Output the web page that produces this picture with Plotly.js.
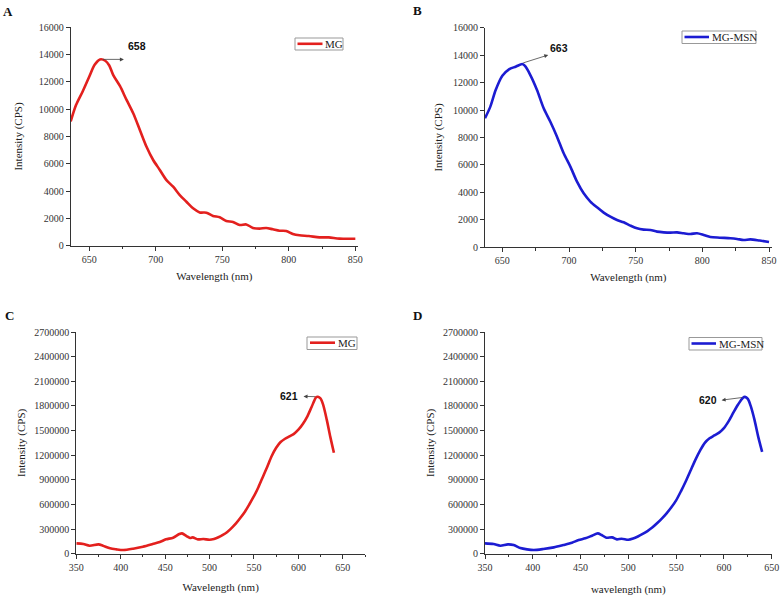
<!DOCTYPE html>
<html>
<head>
<meta charset="utf-8">
<script src="https://cdn.plot.ly/plotly-3.0.1.min.js"></script>
<style>html,body{margin:0;padding:0;background:#fff;}#chart{width:781px;height:599px;}</style>
</head>
<body>
<div id="chart"></div>
<script>
// ---- Data ----
const A_wavelength = [636,640,645,650,654,658,662,665,668,673,678,683,688,693,698,703,708,713,718,723,728,733,738,743,748,753,758,763,768,773,778,783,788,793,798,803,808,815,823,830,838,850];
const A_intensity  = [9100,10300,11300,12400,13250,13650,13550,13200,12500,11700,10680,9700,8480,7250,6280,5550,4800,4320,3710,3220,2740,2440,2420,2180,2080,1810,1740,1520,1560,1300,1250,1300,1200,1100,1080,860,760,710,610,610,520,510];

const B_wavelength = [637,641,645,650,655,660,665,667,671,676,681,686,691,696,701,706,711,716,721,726,731,736,741,746,751,756,761,766,771,776,781,786,791,796,801,806,813,821,826,831,836,843,850];
const B_intensity  = [9400,10250,11460,12500,12970,13160,13350,13210,12550,11460,10130,9150,8060,6850,5880,4780,3930,3330,2910,2530,2230,1990,1820,1580,1380,1290,1260,1140,1090,1070,1090,1020,970,1020,900,750,700,660,610,530,580,490,390];

const C_wavelength = [350,358,365,375,380,388,395,403,414,425,436,444,451,459,466,469,474,478,481,487,493,500,505,510,515,520,525,530,535,540,545,550,555,560,565,570,575,580,585,590,595,600,605,610,615,620,622,625,628,632,636,640];
const C_intensity  = [125900,117700,97400,113700,97400,65000,52800,44700,60900,85300,117700,142100,174600,194900,239500,247700,215200,190800,198900,174600,178600,170000,180000,200000,228000,265000,315000,372000,440000,515000,605000,700000,810000,935000,1060000,1190000,1290000,1360000,1400000,1430000,1460000,1510000,1580000,1670000,1790000,1905000,1912000,1890000,1810000,1630000,1420000,1230000];

const D_wavelength = [350,359,366,374,380,387,394,401,411,422,432,441,448,455,462,468,472,477,483,488,493,500,505,510,515,520,525,530,535,540,545,550,555,560,565,570,575,580,585,590,595,600,605,610,615,620,622,625,628,632,636,640];
const D_intensity  = [125900,117700,97400,113700,105600,69000,52800,44700,56800,77100,105600,134000,166500,186800,219200,247700,227400,194900,198900,174600,182700,170000,185000,210000,240000,275000,318000,370000,428000,492000,565000,650000,760000,880000,1010000,1140000,1255000,1350000,1405000,1440000,1475000,1530000,1615000,1720000,1820000,1900000,1910000,1885000,1800000,1630000,1420000,1240000];

const seriesNames = ['MG','MG-MSN','MG','MG-MSN'];
const panelLetters = ['A','B','C','D'];
const peakLabels = ['658','663','621','620'];
const xTitles = ['Wavelength (nm)','Wavelength (nm)','Wavelength (nm)','wavelength (nm)'];
const yTitle = 'Intensity (CPS)';

// ---- Styling ----
const W = 781, H = 599;
const RED = '#e3201e', BLUE = '#1c1cd2';
const px = v => v / W;
const py = v => 1 - v / H;
const serif = 'Liberation Serif, Times New Roman, serif';
const sans = 'Liberation Sans, Arial, sans-serif';

function trace(x, y, color, xa, ya) {
  return {x: x, y: y, type: 'scatter', mode: 'lines', xaxis: xa, yaxis: ya,
    line: {color: color, width: 2.6, shape: 'spline', smoothing: 0.8},
    showlegend: false, hoverinfo: 'x+y'};
}

const data = [
  trace(A_wavelength, A_intensity, RED, 'x', 'y'),
  trace(B_wavelength, B_intensity, BLUE, 'x2', 'y2'),
  trace(C_wavelength, C_intensity, RED, 'x3', 'y3'),
  trace(D_wavelength, D_intensity, BLUE, 'x4', 'y4')
];

function xaxis(domain, range, dtick, anchor, title, standoff) {
  return {domain: domain, range: range, anchor: anchor, dtick: dtick, tick0: 0,
    showline: true, linecolor: '#333', linewidth: 1, ticks: 'outside', ticklen: 4, tickcolor: '#333',
    showgrid: false, zeroline: false, tickfont: {family: serif, size: 10, color: '#333'},
    minor: {ticks: 'outside', ticklen: 2.5, dtick: 25, tick0: 0, tickcolor: '#333', showgrid: false},
    title: {text: title, font: {family: serif, size: 11, color: '#222'}, standoff: standoff}};
}
function yaxis(domain, range, dtick, anchor, standoff) {
  return {domain: domain, range: range, anchor: anchor, dtick: dtick, tick0: 0, tickformat: 'd',
    showline: true, linecolor: '#333', linewidth: 1, ticks: 'outside', ticklen: 4, tickcolor: '#333',
    showgrid: false, zeroline: false, tickfont: {family: serif, size: 10, color: '#333'},
    title: {text: yTitle, font: {family: serif, size: 11, color: '#222'}, standoff: standoff}};
}

// legend boxes drawn as shapes + text
function legendBox(x0, y0, x1, y1, lx0, lx1, ly, color) {
  return [
    {type: 'rect', xref: 'paper', yref: 'paper', x0: px(x0), x1: px(x1), y0: py(y1), y1: py(y0),
     line: {color: '#999', width: 1}, fillcolor: 'rgba(0,0,0,0)'},
    {type: 'line', xref: 'paper', yref: 'paper', x0: px(lx0), x1: px(lx1), y0: py(ly), y1: py(ly),
     line: {color: color, width: 2.6}}
  ];
}
const shapes = [].concat(
  legendBox(295, 38, 343, 50, 297.5, 322.5, 43.8, RED),
  legendBox(682, 31, 756, 43.5, 684.5, 709, 37, BLUE),
  legendBox(307, 337, 357, 349.5, 310, 335, 342.7, RED),
  legendBox(689, 337.5, 762, 350, 691.5, 716, 343.5, BLUE)
);

function legendText(txt, x, y) {
  return {text: txt, xref: 'paper', yref: 'paper', x: px(x), y: py(y), xanchor: 'left', yanchor: 'middle',
    showarrow: false, font: {family: serif, size: 11, color: '#222'}};
}
function letter(txt, x, y) {
  return {text: '<b>' + txt + '</b>', xref: 'paper', yref: 'paper', x: px(x), y: py(y), xanchor: 'center', yanchor: 'middle',
    showarrow: false, font: {family: serif, size: 13, color: '#111'}};
}
function arrow(xa, ya, tailX, tailY, headX, headY) {
  return {text: '', xref: xa, yref: ya, axref: xa, ayref: ya, x: headX, y: headY, ax: tailX, ay: tailY,
    showarrow: true, arrowhead: 2, arrowsize: 1, arrowwidth: 0.8, arrowcolor: '#444', standoff: 0, startstandoff: 0};
}
function peakText(xa, ya, txt, x, y) {
  return {text: '<b>' + txt + '</b>', xref: xa, yref: ya, x: x, y: y, xanchor: 'center', yanchor: 'middle',
    showarrow: false, font: {family: sans, size: 10.5, color: '#111'}};
}

const annotations = [
  letter(panelLetters[0], 8, 11), letter(panelLetters[1], 417, 10),
  letter(panelLetters[2], 9, 315), letter(panelLetters[3], 417, 315),
  legendText(seriesNames[0], 323, 44), legendText(seriesNames[1], 709.5, 37.3),
  legendText(seriesNames[2], 335.5, 343), legendText(seriesNames[3], 716.5, 343.8),
  arrow('x', 'y', 659, 13650, 676, 13650), peakText('x', 'y', peakLabels[0], 686, 14630),
  arrow('x2', 'y2', 664.5, 13400, 684.4, 14010), peakText('x2', 'y2', peakLabels[1], 692.4, 14500),
  arrow('x3', 'y3', 620.7, 1912000, 605.8, 1916000), peakText('x3', 'y3', peakLabels[2], 590, 1921000),
  arrow('x4', 'y4', 620.9, 1905000, 597.6, 1870000), peakText('x4', 'y4', peakLabels[3], 583.6, 1866000)
];

const layout = {
  width: W, height: H, margin: {l: 0, r: 0, t: 0, b: 0},
  paper_bgcolor: '#fff', plot_bgcolor: '#fff', showlegend: false,
  xaxis:  xaxis([px(70.7), px(358)], [636, 852], 50, 'y', xTitles[0], 8),
  yaxis:  yaxis([py(245.7), py(27.3)], [0, 16000], 2000, 'x', 13),
  xaxis2: xaxis([px(485), px(771.7)], [637, 852], 50, 'y2', xTitles[1], 8),
  yaxis2: yaxis([py(247.3), py(27.7)], [0, 16000], 2000, 'x2', 8),
  xaxis3: xaxis([px(76.3), px(365)], [350, 675], 50, 'y3', xTitles[2], 11),
  yaxis3: yaxis([py(553.7), py(332)], [0, 2700000], 300000, 'x3', 6),
  xaxis4: xaxis([px(485), px(771.7)], [350, 650], 50, 'y4', xTitles[3], 13),
  yaxis4: yaxis([py(553.7), py(332)], [0, 2700000], 300000, 'x4', 6),
  shapes: shapes,
  annotations: annotations
};

Plotly.newPlot('chart', data, layout, {staticPlot: true, displayModeBar: false});
</script>
</body>
</html>
